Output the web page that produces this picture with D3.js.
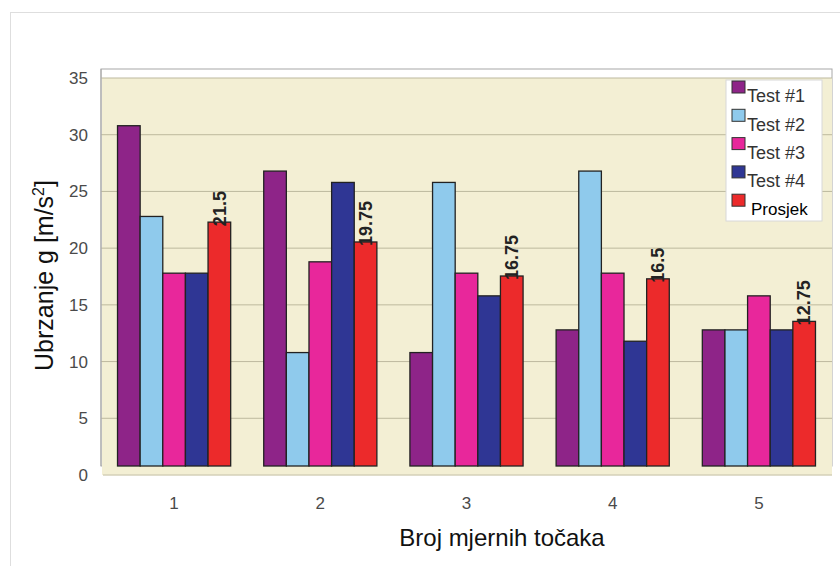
<!DOCTYPE html>
<html lang="hr">
<head>
    <meta charset="UTF-8">
    <title>Ubrzanje po mjernim točkama</title>
    <script src="https://d3js.org/d3.v7.min.js"></script>
    <style>
        body { margin: 0; background: #fff; }
        text { font-family: "Liberation Sans", Arial, sans-serif; }
    </style>
</head>
<body>
    <div id="chart"></div>

    <script>
        // Podaci
        const tocke = ["1", "2", "3", "4", "5"];
        const serije = ["Test #1", "Test #2", "Test #3", "Test #4", "Prosjek"];
        const test1 = [30, 26, 10, 12, 12];
        const test2 = [22, 10, 25, 26, 12];
        const test3 = [17, 18, 17, 17, 15];
        const test4 = [17, 25, 15, 11, 12];
        const prosjek = [21.5, 19.75, 16.75, 16.5, 12.75];
        const yTicks = [0, 5, 10, 15, 20, 25, 30, 35];
        const boje = ["#8e2488", "#8fcaec", "#e8279b", "#2f3694", "#ec2a2b"];

        const vrijednosti = [test1, test2, test3, test4, prosjek];

        const W = 840, H = 566;
        const pLeft = 101, pRight = 832, pTop = 69, pBottom = 466;
        const wallShift = 9; // pomak stražnjeg zida (3D efekt)

        const svg = d3.select("#chart").append("svg")
            .attr("width", W)
            .attr("height", H);

        // vanjski okvir
        svg.append("rect")
            .attr("x", 10.5).attr("y", 12.5)
            .attr("width", W).attr("height", H)
            .attr("fill", "#fff")
            .attr("stroke", "#dedede");

        // Skale
        const x0 = d3.scaleBand().domain(tocke).range([pLeft, pRight])
            .paddingInner(0.226).paddingOuter(0.113);
        const x1 = d3.scaleBand().domain(serije).range([0, x0.bandwidth()]);
        const y = d3.scaleLinear().domain([0, 35]).range([pBottom, pTop]);
        const yWall = d3.scaleLinear().domain([0, 35]).range([pBottom + wallShift, pTop + wallShift]);

        // okvir i zid
        svg.append("rect")
            .attr("x", pLeft).attr("y", pTop)
            .attr("width", pRight - pLeft).attr("height", pBottom - pTop)
            .attr("fill", "#fff")
            .attr("stroke", "#a8a8a8");
        svg.append("rect")
            .attr("x", pLeft + 1).attr("y", yWall(35))
            .attr("width", pRight - pLeft - 1).attr("height", yWall(0) - yWall(35))
            .attr("fill", "#f3efd4");

        // mreža
        svg.append("g")
            .selectAll("line")
            .data(yTicks.filter(d => d > 0))
            .join("line")
            .attr("x1", pLeft).attr("x2", pRight)
            .attr("y1", d => yWall(d)).attr("y2", d => yWall(d))
            .attr("stroke", "#bdb99e")
            .attr("stroke-width", 1);

        // pod
        svg.append("line")
            .attr("x1", pLeft + 2).attr("x2", pRight)
            .attr("y1", yWall(0)).attr("y2", yWall(0))
            .attr("stroke", "#d4d0b8").attr("stroke-width", 1.5);
        svg.append("line")
            .attr("x1", pLeft).attr("x2", pLeft)
            .attr("y1", pTop).attr("y2", pBottom)
            .attr("stroke", "#a8a8a8");

        // Y os
        const yAxis = svg.append("g")
            .attr("transform", `translate(${pLeft},0)`)
            .call(d3.axisLeft(yWall).tickValues(yTicks).tickSize(0).tickPadding(13));
        yAxis.select(".domain").remove();
        yAxis.selectAll("text")
            .attr("font-size", 17)
            .attr("fill", "#4a4a4a");

        // X os
        const xAxis = svg.append("g")
            .attr("transform", `translate(0,${pBottom + 27})`)
            .call(d3.axisBottom(x0).tickSize(0).tickPadding(4));
        xAxis.select(".domain").remove();
        xAxis.selectAll("text")
            .attr("font-size", 17)
            .attr("fill", "#4a4a4a");

        // Stupci
        const grupe = svg.append("g")
            .selectAll("g")
            .data(tocke)
            .join("g")
            .attr("transform", d => `translate(${x0(d)},0)`);

        grupe.selectAll("rect")
            .data((d, i) => serije.map((s, j) => ({ s, j, v: vrijednosti[j][i] })))
            .join("rect")
            .attr("x", d => x1(d.s))
            .attr("width", x1.bandwidth())
            .attr("y", d => y(d.v))
            .attr("height", d => y(0) - y(d.v))
            .attr("fill", d => boje[d.j])
            .attr("stroke", "#222")
            .attr("stroke-width", 1.3);

        // Oznake prosjeka
        svg.append("g")
            .selectAll("text")
            .data(tocke)
            .join("text")
            .attr("transform", (d, i) => {
                const cx = x0(d) + x1("Prosjek") + x1.bandwidth() / 2;
                return `translate(${cx},${y(prosjek[i]) + 4}) rotate(-90)`;
            })
            .attr("dy", "0.35em")
            .attr("font-size", 18)
            .attr("font-weight", "bold")
            .attr("fill", "#222")
            .text((d, i) => prosjek[i]);

        // Legenda
        const leg = svg.append("g").attr("transform", "translate(726,80)");
        leg.append("rect")
            .attr("width", 96).attr("height", 141)
            .attr("fill", "#fff")
            .attr("stroke", "#d8d8d8");
        const stavke = leg.selectAll("g")
            .data(serije)
            .join("g")
            .attr("transform", (d, i) => `translate(6,${1 + i * 28.3})`);
        stavke.append("rect")
            .attr("width", 13).attr("height", 12)
            .attr("fill", (d, i) => boje[i])
            .attr("stroke", "#333");
        stavke.append("text")
            .attr("x", (d, i) => i === 4 ? 19 : 15)
            .attr("y", 15)
            .attr("dy", "0.35em")
            .attr("font-size", (d, i) => i === 4 ? 17 : 18)
            .attr("fill", (d, i) => i === 4 ? "#000" : "#333")
            .text(d => d);

        // Naslovi osi
        svg.append("text")
            .attr("transform", `translate(53,${(pTop + pBottom) / 2 + 8}) rotate(-90)`)
            .attr("text-anchor", "middle")
            .attr("font-size", 25)
            .attr("fill", "#111")
            .html('Ubrzanje g [m/s<tspan dy="-9" font-size="16">2</tspan><tspan dy="9">]</tspan>');

        svg.append("text")
            .attr("x", 502).attr("y", 546)
            .attr("text-anchor", "middle")
            .attr("font-size", 24)
            .attr("fill", "#111")
            .text("Broj mjernih točaka");
    </script>
</body>
</html>
